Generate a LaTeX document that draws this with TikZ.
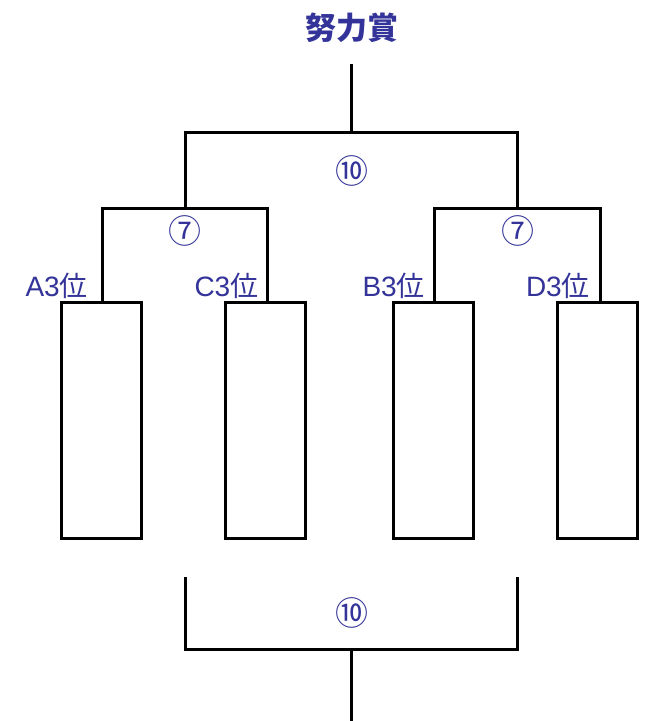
\documentclass[tikz,border=0pt]{standalone}
\usepackage{fontspec}
\newfontfamily\cjk{Noto Sans CJK JP}
\newfontfamily\lat{Liberation Sans}
\usetikzlibrary{positioning}
\definecolor{titleblue}{RGB}{51,51,153}

\begin{document}
\begin{tikzpicture}[x=1pt, y=-1pt,
    line/.style={line width=3pt},
    slot/.style={draw, line width=3pt, minimum width=80pt, minimum height=236pt, inner sep=0pt},
    lbl/.style={text=titleblue, inner sep=0pt, font=\cjk\fontsize{28}{28}\selectfont},
    seed/.style={text=titleblue, inner sep=0pt, font=\cjk\fontsize{33}{33}\selectfont}]
    \useasboundingbox (0,0) rectangle (649,721);

    % Title
    \node[text=titleblue, inner sep=0pt, font=\cjk\bfseries\fontsize{31}{31}\selectfont] (title) at (352,28) {努力賞};

    % Entry boxes
    \node[slot] (boxA) at (101,420.5) {};
    \node[slot] (boxC) at (265.5,420.5) {};
    \node[slot] (boxB) at (433,420.5) {};
    \node[slot] (boxD) at (597,420.5) {};

    % Entry labels
    \node[lbl, above left=2pt and 13pt of boxA.north] (labA) {{\lat A3}位};
    \node[lbl, above left=2pt and 7pt of boxC.north] (labC) {{\lat C3}位};
    \node[lbl, above left=2pt and 8pt of boxB.north] (labB) {{\lat B3}位};
    \node[lbl, above left=2pt and 7pt of boxD.north] (labD) {{\lat D3}位};

    % Upper bracket
    \coordinate (win) at (351,64);
    \coordinate (final) at (351,132);
    \coordinate (semiL) at (185,208);
    \coordinate (semiR) at (517,208);
    \draw[line] (win) -- (final);
    \draw[line] (semiL) |- (final) -| (semiR);
    \draw[line] ([xshift=1pt]boxA.north) |- (semiL) -| ([xshift=1.5pt]boxC.north);
    \draw[line] ([xshift=1pt]boxB.north) |- (semiR) -| ([xshift=3pt]boxD.north);
    \node[seed] (numF) at (352,171) {⑩};
    \node[seed] (numL) at (185,231) {⑦};
    \node[seed] (numR) at (518,231) {⑦};

    % Lower bracket
    \coordinate (lowL) at (185,577);
    \coordinate (lowR) at (517,577);
    \coordinate (lowF) at (351,649);
    \coordinate (lowW) at (351,721);
    \draw[line] (lowL) |- (lowF) -| (lowR);
    \draw[line] (lowF) -- (lowW);
    \node[seed] (numLow) at (352,613) {⑩};
\end{tikzpicture}
\end{document}
